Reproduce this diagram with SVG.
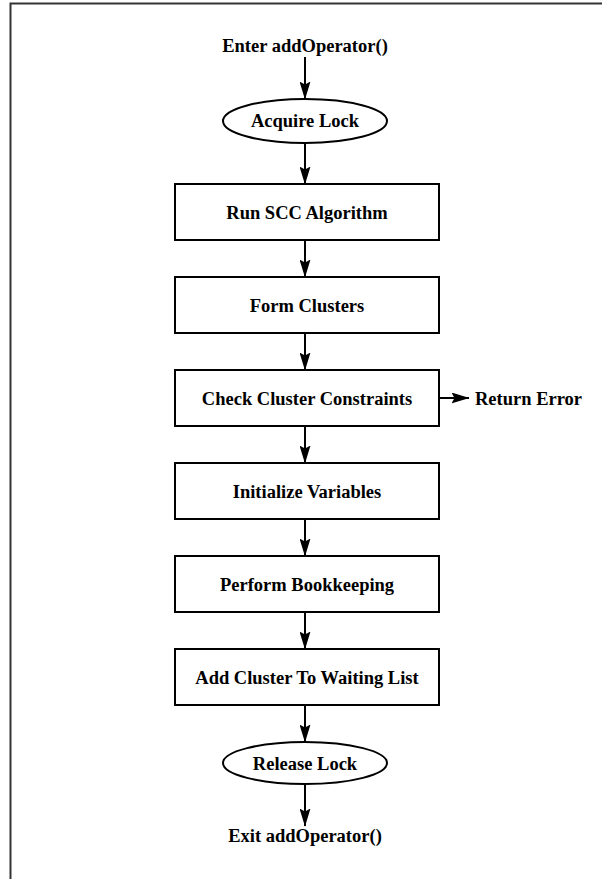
<svg xmlns="http://www.w3.org/2000/svg" width="602" height="879" viewBox="0 0 602 879">
  <style>
    .frame { stroke: #333; stroke-width: 2; fill: none; }
    .box { fill: #fff; stroke: #000; stroke-width: 2; }
    .oval { fill: #fff; stroke: #000; stroke-width: 2; }
    .edge { stroke: #000; stroke-width: 2; fill: none; marker-end: url(#head); }
    text { font-family: "Liberation Serif", "Times New Roman", serif; font-weight: bold; font-size: 18.5px; fill: #000; }
    .c { text-anchor: middle; }
  </style>
  <defs>
    <marker id="head" viewBox="0 0 18 11" refX="17.5" refY="5.5" markerWidth="18" markerHeight="11" markerUnits="userSpaceOnUse" orient="auto">
      <path d="M0,0 L18,5.5 L0,11 L3,5.5 z" fill="#000"/>
    </marker>
  </defs>
  <rect width="602" height="879" fill="#fff"/>
  <!-- page frame: top and left rules -->
  <path class="frame" d="M10.5,879 V3.5 H602"/>

  <g id="enter"><text class="c" x="305" y="52">Enter addOperator()</text></g>
  <g id="acquire">
    <ellipse class="oval" cx="305" cy="121" rx="82" ry="22"/>
    <text class="c" x="305" y="127">Acquire Lock</text>
  </g>
  <g id="scc">
    <rect class="box" x="175" y="184" width="264" height="56"/>
    <text class="c" x="307" y="219">Run SCC Algorithm</text>
  </g>
  <g id="form">
    <rect class="box" x="175" y="277" width="264" height="56"/>
    <text class="c" x="307" y="312">Form Clusters</text>
  </g>
  <g id="check">
    <rect class="box" x="175" y="370" width="264" height="56"/>
    <text class="c" x="307" y="405">Check Cluster Constraints</text>
  </g>
  <g id="error"><text x="475" y="405">Return Error</text></g>
  <g id="init">
    <rect class="box" x="175" y="463" width="264" height="56"/>
    <text class="c" x="307" y="498">Initialize Variables</text>
  </g>
  <g id="book">
    <rect class="box" x="175" y="556" width="264" height="56"/>
    <text class="c" x="307" y="591">Perform Bookkeeping</text>
  </g>
  <g id="wait">
    <rect class="box" x="175" y="649" width="264" height="56"/>
    <text class="c" x="307" y="684">Add Cluster To Waiting List</text>
  </g>
  <g id="release">
    <ellipse class="oval" cx="305" cy="763" rx="82" ry="21"/>
    <text class="c" x="305" y="770">Release Lock</text>
  </g>
  <g id="exit"><text class="c" x="305" y="842">Exit addOperator()</text></g>

  <g id="connectors">
    <line class="edge" x1="305" y1="57" x2="305" y2="99"/>
    <line class="edge" x1="305" y1="143" x2="305" y2="184"/>
    <line class="edge" x1="305" y1="240" x2="305" y2="277"/>
    <line class="edge" x1="305" y1="333" x2="305" y2="370"/>
    <line class="edge" x1="305" y1="426" x2="305" y2="463"/>
    <line class="edge" x1="305" y1="519" x2="305" y2="556"/>
    <line class="edge" x1="305" y1="612" x2="305" y2="649"/>
    <line class="edge" x1="305" y1="705" x2="305" y2="742"/>
    <line class="edge" x1="305" y1="784" x2="305" y2="826"/>
    <line class="edge" x1="439" y1="398" x2="469" y2="398"/>
  </g>
</svg>
